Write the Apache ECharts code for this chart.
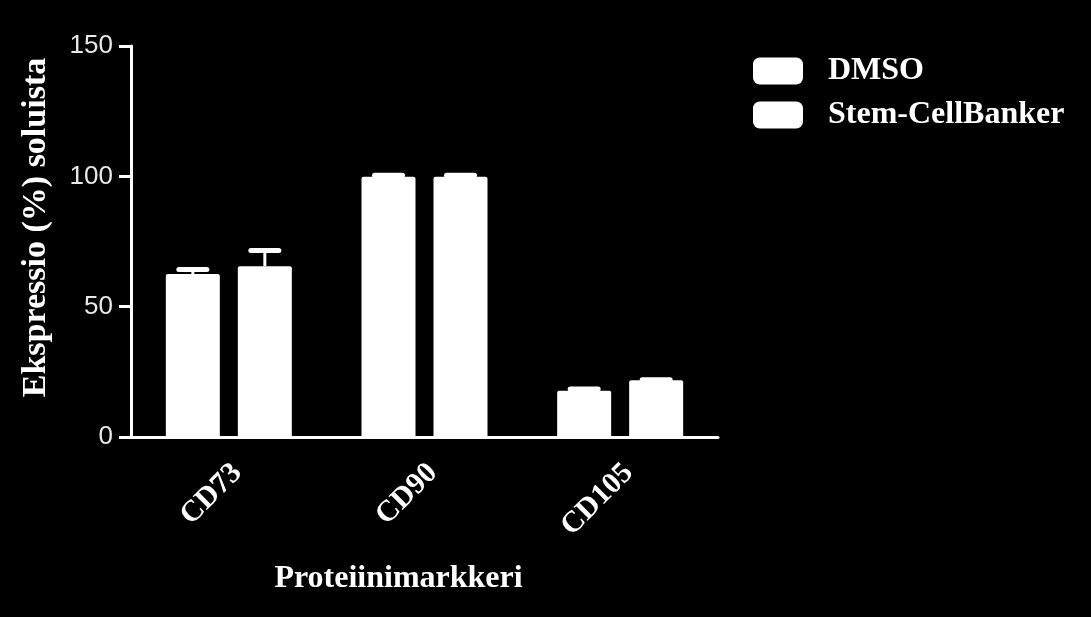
<!DOCTYPE html>
<html>
<head>
<meta charset="utf-8">
<script src="https://cdn.jsdelivr.net/npm/echarts@6/dist/echarts.min.js"></script>
<style>
  html, body { margin: 0; padding: 0; background: #000; }
  #main { width: 1091px; height: 617px; }
</style>
</head>
<body>
<div id="main"></div>
<script>
// markers and groups
var markers = ['CD73', 'CD90', 'CD105'];
var dmso = [62.5, 99.8, 17.7];
var dmsoErr = [1.8, 0.6, 0.7];
var stem = [65.5, 99.8, 21.8];
var stemErr = [6.0, 0.6, 0.2];
var yTicks = [0, 50, 100, 150];

var chart = echarts.init(document.getElementById('main'));

var barW = 54;
var barGapPx = 18;
var serif = '"Liberation Serif", "DejaVu Serif", serif';

// error bar drawn on top of a bar; shift = which bar in the group (-1 / +1)
function errRender(vals, errs, shift) {
  return function (params, api) {
    var i = api.value(0);
    var hi = api.coord([i, vals[i] + errs[i]]);
    var mid = api.coord([i, vals[i]]);
    var x = hi[0] + shift * (barW + barGapPx) / 2;
    var cap = 28;
    return {
      type: 'group',
      children: [
        { type: 'line', shape: { x1: x, y1: mid[1], x2: x, y2: hi[1] },
          style: { stroke: '#fff', lineWidth: 3 } },
        { type: 'line', shape: { x1: x - cap / 2, y1: hi[1], x2: x + cap / 2, y2: hi[1] },
          style: { stroke: '#fff', lineWidth: 5, lineCap: 'round' } }
      ]
    };
  };
}

var option = {
  backgroundColor: '#000',
  animation: false,
  legend: {
    left: 753,
    top: 55,
    padding: 0,
    orient: 'vertical',
    itemWidth: 50,
    itemHeight: 27,
    itemGap: 12,
    icon: 'roundRect',
    data: ['DMSO', 'Stem-CellBanker'],
    textStyle: {
      color: '#fff', fontFamily: serif, fontWeight: 'bold', fontSize: 32,
      padding: [0, 0, 0, 20]
    }
  },
  grid: { left: 131, top: 46, width: 587, bottom: 180 },
  xAxis: {
    type: 'category',
    data: markers,
    name: 'Proteiinimarkkeri',
    nameLocation: 'middle',
    nameGap: 126,
    nameTextStyle: {
      color: '#fff', fontFamily: serif, fontWeight: 'bold', fontSize: 32,
      padding: [0, 52, 0, 0]
    },
    axisLine: { lineStyle: { color: '#fff', width: 3 } },
    axisTick: { alignWithLabel: true, length: 12, lineStyle: { color: '#fff', width: 3 } },
    axisLabel: {
      color: '#fff', fontFamily: serif, fontWeight: 'bold', fontSize: 30,
      rotate: 45, margin: 40, padding: [0, -12, 0, 0]
    }
  },
  yAxis: {
    type: 'value',
    min: 0,
    max: 150,
    interval: 50,
    name: 'Ekspressio (%) soluista',
    nameLocation: 'middle',
    nameGap: 78,
    nameTextStyle: {
      color: '#fff', fontFamily: serif, fontWeight: 'bold', fontSize: 34,
      padding: [0, 0, 0, 28]
    },
    axisLine: { show: true, lineStyle: { color: '#fff', width: 3 } },
    axisTick: { show: true, length: 12, lineStyle: { color: '#fff', width: 3 } },
    splitLine: { show: false },
    axisLabel: {
      color: '#e8e8e8', fontFamily: '"Liberation Sans", Arial, sans-serif', fontSize: 26,
      margin: 18,
      formatter: function (v) { return yTicks.indexOf(v) >= 0 ? String(v) : ''; }
    }
  },
  series: [
    {
      name: 'DMSO', type: 'bar', data: dmso,
      barWidth: barW, barGap: (barGapPx / barW * 100) + '%',
      itemStyle: { color: '#fff', borderRadius: [2, 2, 0, 0] }
    },
    {
      name: 'Stem-CellBanker', type: 'bar', data: stem,
      barWidth: barW,
      itemStyle: { color: '#fff', borderRadius: [2, 2, 0, 0] }
    },
    {
      type: 'custom', data: markers.map(function (m, i) { return [i]; }),
      renderItem: errRender(dmso, dmsoErr, -1), z: 5
    },
    {
      type: 'custom', data: markers.map(function (m, i) { return [i]; }),
      renderItem: errRender(stem, stemErr, 1), z: 5
    }
  ]
};

chart.setOption(option);
</script>
</body>
</html>
